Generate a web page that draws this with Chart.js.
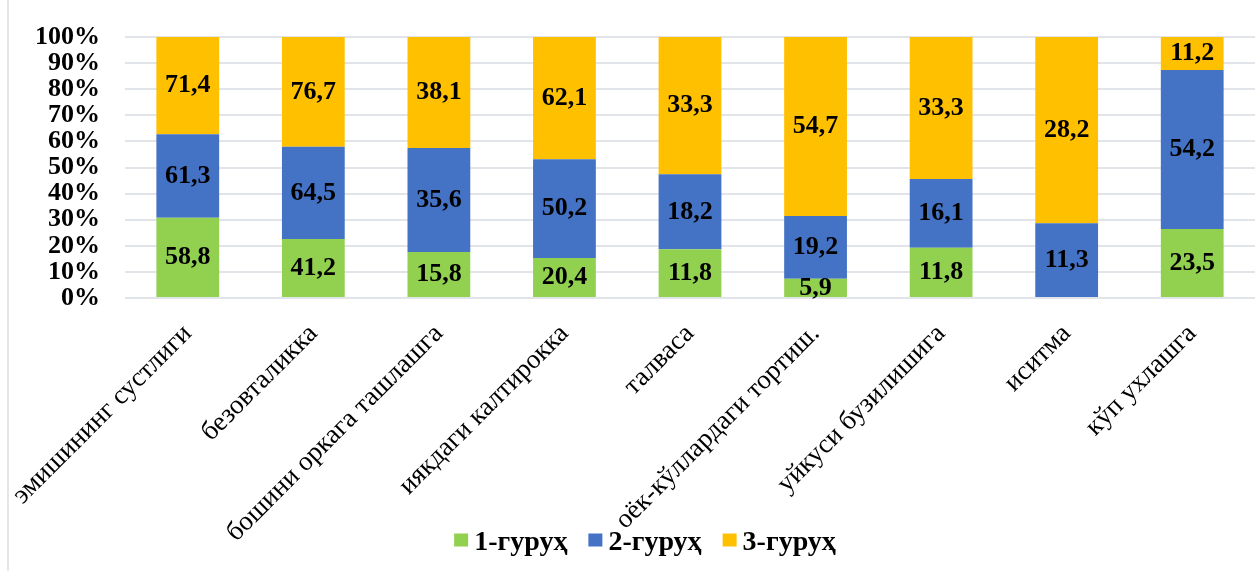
<!DOCTYPE html>
<html>
<head>
<meta charset="utf-8">
<script src="https://cdn.jsdelivr.net/npm/chart.js@4.4.1/dist/chart.umd.min.js"></script>
<style>
  html, body { margin: 0; padding: 0; background: #ffffff; }
  #wrap { position: relative; width: 1258px; height: 571px; }
  #frame { position: absolute; left: 7px; top: 0; width: 0; height: 571px; border-left: 2px solid #e4e6ea; }
  canvas { position: absolute; left: 0; top: 0; }
</style>
</head>
<body>
<div id="wrap">
  <div id="frame"></div>
  <canvas id="chart" width="1258" height="571"></canvas>
</div>
<script>
// Symptoms (categories)
const categories = [
  "эмишининг сустлиги",
  "безовталикка",
  "бошини оркага ташлашга",
  "иякдаги калтирокка",
  "талваса",
  "оёк-кўллардаги тортиш.",
  "уйкуси бузилишига",
  "иситма",
  "кўп ухлашга"
];

// Values per group
const group1 = [58.8, 41.2, 15.8, 20.4, 11.8, 5.9, 11.8, 0, 23.5];
const group2 = [61.3, 64.5, 35.6, 50.2, 18.2, 19.2, 16.1, 11.3, 54.2];
const group3 = [71.4, 76.7, 38.1, 62.1, 33.3, 54.7, 33.3, 28.2, 11.2];

const seriesNames = ["1-гуруҳ", "2-гуруҳ", "3-гуруҳ"];
const seriesColors = ["#92D050", "#4472C4", "#FFC000"];

// Y axis tick labels
const yTicks = [0, 10, 20, 30, 40, 50, 60, 70, 80, 90, 100];

// 100% stacking: each segment is its share of the category total
const totals = categories.map((_, i) => group1[i] + group2[i] + group3[i]);
const share = arr => arr.map((v, i) => v / totals[i] * 100);
const rawSeries = [group1, group2, group3];

const SERIF = "'Liberation Serif', 'Times New Roman', serif";

// Writes the original value (comma decimal) in the middle of each segment
const segmentLabels = {
  id: 'segmentLabels',
  afterDatasetsDraw(chart) {
    const ctx = chart.ctx;
    ctx.save();
    ctx.font = "bold 26px " + SERIF;
    ctx.fillStyle = "#000000";
    ctx.textAlign = "center";
    ctx.textBaseline = "middle";
    chart.data.datasets.forEach((ds, di) => {
      const meta = chart.getDatasetMeta(di);
      meta.data.forEach((bar, i) => {
        const v = rawSeries[di][i];
        if (!v) return;
        const c = bar.getCenterPoint();
        ctx.fillText(v.toFixed(1).replace('.', ','), c.x, c.y);
      });
    });
    ctx.restore();
  }
};

// Legend row drawn under the rotated category names (they reach into this band)
const bottomLegend = {
  id: 'bottomLegend',
  afterDraw(chart) {
    const ctx = chart.ctx;
    const box = 14, boxH = 13, gap = 6, spacing = 21;
    const cy = 541, centerX = 645;
    ctx.save();
    ctx.font = "bold 28px " + SERIF;
    ctx.textBaseline = "middle";
    ctx.textAlign = "left";
    const items = chart.data.datasets.map(ds => ({
      text: ds.label, color: ds.backgroundColor, w: ctx.measureText(ds.label).width
    }));
    const total = items.reduce((s, it) => s + box + gap + it.w, 0) + spacing * (items.length - 1);
    let x = centerX - total / 2;
    items.forEach(it => {
      ctx.fillStyle = it.color;
      ctx.fillRect(x, cy - boxH / 2 - 1, box, boxH);
      ctx.fillStyle = "#000000";
      ctx.fillText(it.text, x + box + gap, cy + 2);
      x += box + gap + it.w + spacing;
    });
    ctx.restore();
  }
};

new Chart(document.getElementById('chart'), {
  type: 'bar',
  data: {
    labels: categories,
    datasets: rawSeries.map((arr, k) => ({
      label: seriesNames[k],
      data: share(arr),
      backgroundColor: seriesColors[k],
      borderWidth: 0,
      categoryPercentage: 1.0,
      barPercentage: 0.5
    }))
  },
  options: {
    responsive: false,
    animation: false,
    layout: { padding: { left: 32, right: 3, top: 37, bottom: 0 } },
    plugins: {
      tooltip: { enabled: false },
      legend: { display: false }
    },
    scales: {
      x: {
        stacked: true,
        grid: { display: false, drawTicks: false },
        border: { display: false },
        ticks: {
          autoSkip: false,
          maxRotation: 45,
          minRotation: 45,
          padding: 20,
          color: '#000000',
          font: { family: SERIF, size: 27 }
        },
        afterFit(s) {
          s.height = 273;
          s.paddingLeft = 0;
          s.paddingRight = 0;
        }
      },
      y: {
        stacked: true,
        min: 0,
        max: 100,
        grid: { color: '#e1e4e8', lineWidth: 2, drawTicks: false },
        border: { display: false },
        afterBuildTicks(s) {
          s.ticks = yTicks.map(v => ({ value: v }));
        },
        ticks: {
          autoSkip: false,
          padding: 25,
          color: '#000000',
          font: { family: SERIF, size: 26, weight: 'bold' },
          callback: v => v + '%'
        },
        afterFit(s) {
          s.width = 93;
          s.paddingTop = 0;
          s.paddingBottom = 0;
        }
      }
    }
  },
  plugins: [segmentLabels, bottomLegend]
});
</script>
</body>
</html>
